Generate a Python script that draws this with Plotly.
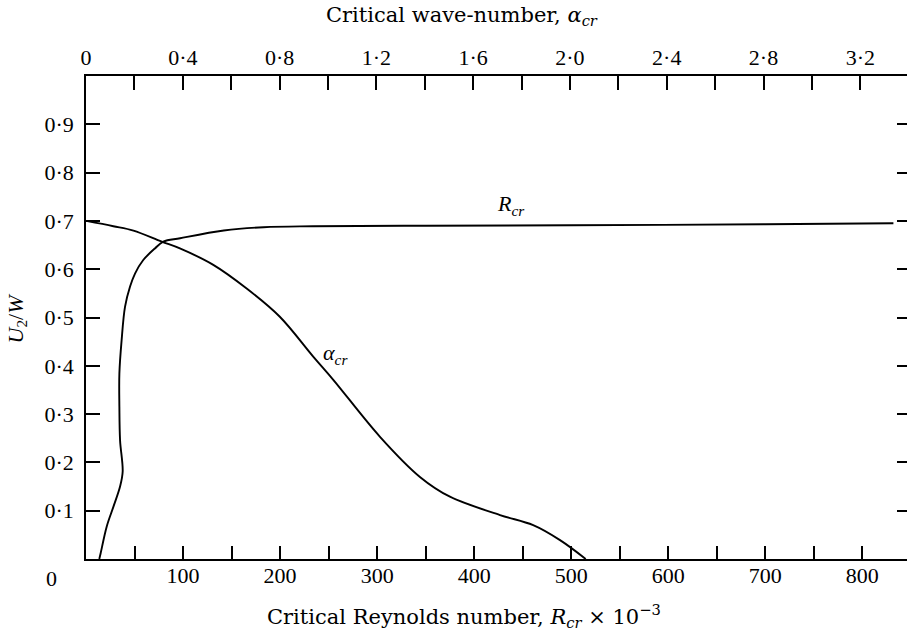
import plotly.graph_objects as go

# R_cr curve (bottom axis, Reynolds x 1e-3) vs U2/W
r_cr_U = [0.0, 0.012, 0.067, 0.108, 0.150, 0.181, 0.246, 0.315, 0.384, 0.453, 0.522,
          0.564, 0.591, 0.619, 0.643, 0.657, 0.664, 0.680, 0.687, 0.689, 0.690, 0.691,
          0.693, 0.695]
r_cr_R = [13.7, 15.1, 21.3, 28.2, 35.1, 37.8, 35.1, 34.4, 34.4, 36.7, 40.2,
          45.4, 50.5, 59, 71, 79.7, 97, 142, 183, 234, 350, 500,
          700, 832]

# alpha_cr curve (top axis, wave-number) vs U2/W
a_cr_U = [0.700, 0.689, 0.680, 0.657, 0.643, 0.609, 0.560, 0.502, 0.419,
          0.371, 0.253, 0.170, 0.129, 0.091, 0.070, 0.039, 0.0]
a_cr_A = [0.0, 0.113, 0.196, 0.313, 0.388, 0.526, 0.664, 0.800, 0.939,
          1.022, 1.215, 1.380, 1.504, 1.711, 1.848, 1.959, 2.065]

r_tickvals = [50, 100, 150, 200, 250, 300, 350, 400, 450, 500, 550, 600, 650, 700, 750, 800]
r_ticktext = ["", "100", "", "200", "", "300", "", "400", "", "500", "", "600", "", "700", "", "800"]
a_tickvals = [0, 0.2, 0.4, 0.6, 0.8, 1.0, 1.2, 1.4, 1.6, 1.8, 2.0, 2.2, 2.4, 2.6, 2.8, 3.0, 3.2]
a_ticktext = ["0", "", "0·4", "", "0·8", "", "1·2", "", "1·6", "", "2·0", "", "2·4", "", "2·8", "", "3·2"]
u_tickvals = [0.1, 0.2, 0.3, 0.4, 0.5, 0.6, 0.7, 0.8, 0.9]
u_ticktext = ["0·1", "0·2", "0·3", "0·4", "0·5", "0·6", "0·7", "0·8", "0·9"]

TICKFONT = dict(family="Liberation Serif", size=22, color="black")
TITLEFONT = dict(family="DejaVu Serif", size=21, color="black")
LABELFONT = dict(family="Liberation Serif", size=22, color="black")

fig = go.Figure()
fig.add_trace(go.Scatter(x=r_cr_R, y=r_cr_U, mode="lines", xaxis="x", yaxis="y",
                         line=dict(color="black", width=1.9, shape="spline", smoothing=1.0),
                         showlegend=False, hoverinfo="skip"))
fig.add_trace(go.Scatter(x=a_cr_A, y=a_cr_U, mode="lines", xaxis="x2", yaxis="y",
                         line=dict(color="black", width=1.9, shape="spline", smoothing=1.0),
                         showlegend=False, hoverinfo="skip"))
# invisible trace to activate right-side tick axis
fig.add_trace(go.Scatter(x=[400], y=[0.5], xaxis="x", yaxis="y2", mode="markers",
                         marker=dict(opacity=0, size=1), showlegend=False, hoverinfo="skip"))

axis_common = dict(showgrid=False, zeroline=False, ticks="inside", tickcolor="black",
                   tickwidth=1.5, linecolor="black", linewidth=1.5, tickfont=TICKFONT)

fig.update_layout(
    width=907, height=632,
    margin=dict(l=86, r=0, t=76, b=73),
    paper_bgcolor="white", plot_bgcolor="white",
    xaxis=dict(range=[0, 846], tickmode="array", tickvals=r_tickvals, ticktext=r_ticktext,
               showline=True, ticklen=13, ticklabelstandoff=-4, **axis_common),
    xaxis2=dict(range=[0, 3.393], overlaying="x", side="top", anchor="y", tickmode="array",
                tickvals=a_tickvals, ticktext=a_ticktext, showline=True, ticklen=14,
                ticklabelstandoff=0, **axis_common),
    yaxis=dict(range=[0, 1.0], tickmode="array", tickvals=u_tickvals, ticktext=u_ticktext,
               showline=True, ticklen=14, ticklabelstandoff=6, **axis_common),
    yaxis2=dict(range=[0, 1.0], overlaying="y", side="right", anchor="x", tickmode="array",
                tickvals=u_tickvals, ticktext=[""] * len(u_tickvals), showticklabels=True,
                showline=False, ticklen=10, showgrid=False, zeroline=False, ticks="inside",
                tickcolor="black", tickwidth=1.8),
    annotations=[
        dict(text="Critical wave-number, <i>α</i><sub><i>cr</i></sub>", xref="paper", yref="paper",
             x=0.458, y=1.125, xanchor="center", yanchor="middle", showarrow=False, font=TITLEFONT),
        dict(text="Critical Reynolds number, <i>R</i><sub><i>cr</i></sub> × 10<sup>−3</sup>",
             xref="paper", yref="paper", x=0.461, y=-0.117, xanchor="center", yanchor="middle",
             showarrow=False, font=TITLEFONT),
        dict(text="<i>U</i><sub>2</sub>/<i>W</i>", xref="paper", yref="paper", x=-0.084, y=0.498,
             xanchor="center", yanchor="middle", textangle=-90, showarrow=False, font=LABELFONT),
        dict(text="0", xref="paper", yref="paper", x=-0.042, y=-0.0395, xanchor="center",
             yanchor="middle", showarrow=False, font=TICKFONT),
        dict(text="<i>R</i><sub><i>cr</i></sub>", xref="x", yref="y", x=438, y=0.732,
             xanchor="center", yanchor="middle", showarrow=False, font=LABELFONT),
        dict(text="<i>α</i><sub><i>cr</i></sub>", xref="x2", yref="y", x=1.03, y=0.424,
             xanchor="center", yanchor="middle", showarrow=False, font=LABELFONT),
    ],
)

fig.write_html("out.html", config={"displayModeBar": False},
               post_script="document.body.style.margin='0';document.body.style.overflow='hidden';")
